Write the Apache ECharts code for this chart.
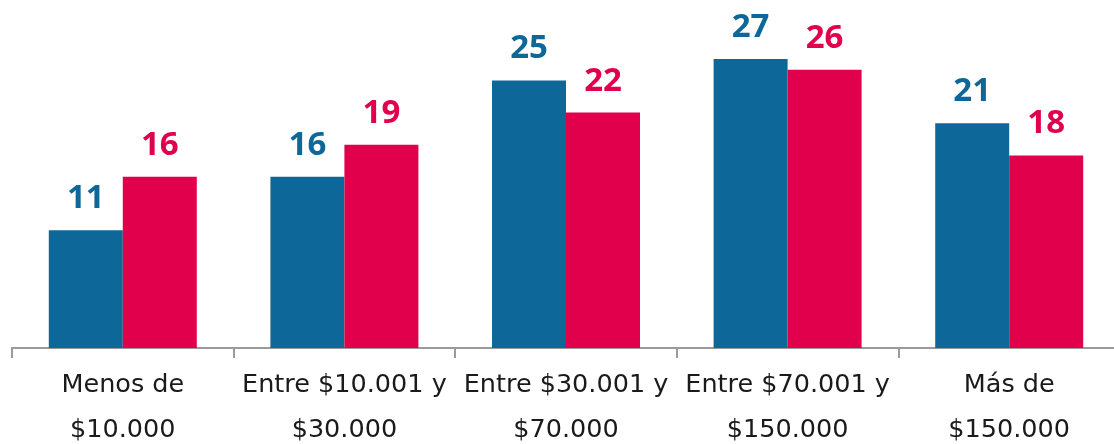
<!DOCTYPE html>
<html>
<head>
<meta charset="utf-8">
<script src="https://cdn.jsdelivr.net/npm/echarts@6/dist/echarts.min.js"></script>
<style>
  html, body { margin: 0; padding: 0; background: #ffffff; }
  #chart { width: 1114px; height: 444px; }
</style>
</head>
<body>
<div id="chart"></div>
<script>
// Income brackets on the category axis
const categories = [
  'Menos de\n$10.000',
  'Entre $10.001 y\n$30.000',
  'Entre $30.001 y\n$70.000',
  'Entre $70.001 y\n$150.000',
  'Más de\n$150.000'
];
// Two series per bracket
const seriesA = [11, 16, 25, 27, 21];
const seriesB = [16, 19, 22, 26, 18];

const BLUE = '#0d6899';
const RED = '#e0004b';

const chart = echarts.init(document.getElementById('chart'), null, { renderer: 'canvas' });

function labelStyle(color) {
  return {
    show: true,
    position: 'top',
    distance: 15,
    color: color,
    fontFamily: 'Open Sans',
    fontWeight: 'bold',
    fontSize: 33
  };
}

chart.setOption({
  animation: false,
  backgroundColor: '#ffffff',
  grid: {
    left: 12, top: 27, width: 1108, bottom: 96,
    containLabel: false,
    outerBoundsMode: 'none'
  },
  xAxis: {
    type: 'category',
    data: categories,
    axisLine: { show: true, lineStyle: { color: '#9a9a9a', width: 2 } },
    axisTick: { show: true, length: 10, lineStyle: { color: '#9a9a9a', width: 2 } },
    axisLabel: {
      color: '#1a1a1a',
      fontFamily: 'DejaVu Sans',
      fontSize: 25.5,
      lineHeight: 45,
      margin: 15,
      interval: 0
    }
  },
  yAxis: {
    type: 'value',
    min: 0,
    max: 30,
    show: false,
    splitLine: { show: false }
  },
  series: [
    {
      type: 'bar',
      data: seriesA,
      barWidth: 74,
      barGap: '0%',
      itemStyle: { color: BLUE },
      label: labelStyle(BLUE)
    },
    {
      type: 'bar',
      data: seriesB,
      barWidth: 74,
      barGap: '0%',
      itemStyle: { color: RED },
      label: labelStyle(RED)
    }
  ]
});
</script>
</body>
</html>
